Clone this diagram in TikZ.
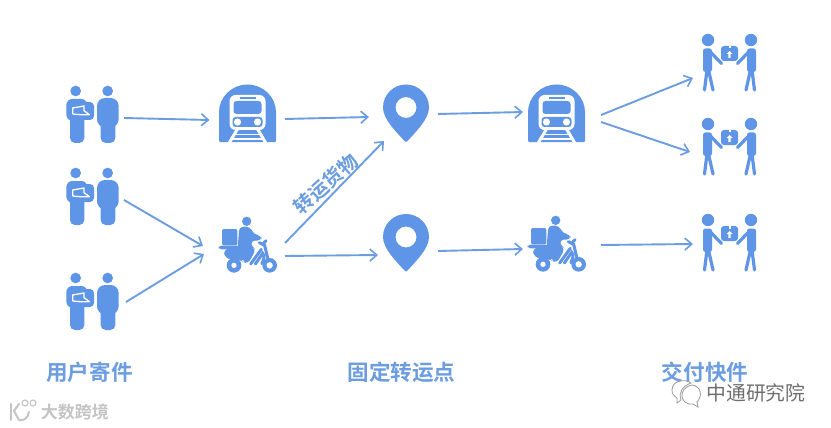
\documentclass[tikz,border=0pt]{standalone}
\usepackage{fontspec}
\usepackage{xcolor}
\usetikzlibrary{arrows.meta}
\newfontfamily\cjkf{Noto Sans CJK SC}
\newfontfamily\cjkb{Noto Sans CJK SC Bold}
\definecolor{iconblue}{HTML}{5F95E6}
\definecolor{lineblue}{HTML}{6C9DE0}
\definecolor{wmgrey}{HTML}{6E6E6E}
\definecolor{wmlight}{HTML}{C4C4C4}
\tikzset{
  x=1pt,y=-1pt,
  flow/.style={draw=lineblue,line width=1.9pt,-{Straight Barb[length=7pt,width=12pt,line width=1.6pt]}},
  anchorbox/.style={inner sep=0pt,minimum size=10pt},
  heading/.style={text=lineblue,font=\fontsize{21.6}{23}\cjkb,inner sep=0pt},
  sender/.pic={
    \begin{scope}[scale=1/3,shift={(-96,-102)}]
      \fill[iconblue] (47,33) circle[radius=16pt];
      \fill[iconblue] (143,33) circle[radius=16pt];
      \fill[iconblue,rounded corners=6pt] (19,57) rectangle (82,122);
      \fill[iconblue,rounded corners=5pt] (30,100) rectangle (73,189);
      \fill[iconblue,rounded corners=4pt] (60,66) rectangle (102,120);
      \draw[white,line width=1.3pt,line join=round] (38,102) -- (38,84) -- (72,78) -- (72,92) -- (88,104) -- (60,104) -- (38,102);
      \fill[iconblue,rounded corners=8pt] (111,54) rectangle (176,142);
      \fill[iconblue,rounded corners=5pt] (122,120) rectangle (166,189);
    \end{scope}
  },
  trainicon/.pic={
    \fill[iconblue,rounded corners=1pt] (-28.5,29) -- (-28.5,0) arc[start angle=180,end angle=0,radius=28.5pt] -- (28.5,29) -- cycle;
    \fill[white,rounded corners=6pt] (-18,-18) rectangle (18,17);
    \fill[iconblue,rounded corners=3pt] (-14,-12) rectangle (14,1);
    \fill[iconblue] (-8,-16) rectangle (8,-14);
    \fill[iconblue,rounded corners=3pt] (-15,4) rectangle (15,14);
    \fill[white] (-10,9) circle[radius=3.6pt];
    \fill[white] (10,9) circle[radius=3.6pt];
    \draw[white,line width=3pt] (-10,16) -- (-18,29.5);
    \draw[white,line width=3pt] (10,16) -- (18,29.5);
    \draw[white,line width=1.8pt] (-13,21.5) -- (13,21.5);
    \draw[white,line width=1.8pt] (-16,26) -- (16,26);
  },
  pinicon/.pic={
    \fill[iconblue,even odd rule] (-23,0) arc[start angle=180,end angle=0,radius=23pt]
       .. controls (23,12) and (9,25) .. (2,33) .. controls (1,35) and (-1,35) .. (-2,33)
       .. controls (-9,25) and (-23,12) .. (-23,0) -- cycle
       (0,0) circle[radius=10.5pt];
  },
  ridericon/.pic={
    \begin{scope}[scale=1/3,shift={(-105,-99)}]
      \fill[iconblue] (98,28) circle[radius=14pt];
      \fill[iconblue,rounded corners=2pt] (24,51) rectangle (70,100);
      \fill[iconblue,rounded corners=3pt] (14,101) rectangle (78,112);
      \fill[iconblue,rounded corners=4pt] (76,44) -- (108,44) -- (120,68) -- (142,70) -- (142,86) -- (110,86) -- (114,106) -- (126,112) -- (102,156) -- (84,148) -- (92,124) -- (70,120) -- cycle;
      \fill[iconblue,rounded corners=6pt] (28,110) -- (98,110) -- (92,152) -- (78,142) -- (34,142) -- cycle;
      \fill[iconblue] (60,160) circle[radius=22pt];
      \fill[white] (60,160) circle[radius=8pt];
      \draw[iconblue,line width=3pt,line cap=round] (110,156) -- (142,112);
      \draw[iconblue,line width=3pt,line cap=round] (124,156) -- (146,124) .. controls (156,132) and (146,146) .. (144,155);
      \draw[iconblue,line width=3pt,line cap=round] (136,92) -- (152,100) -- (162,142);
      \draw[iconblue,line width=3pt,line cap=round] (148,94) -- (156,86);
      \fill[iconblue] (167,160) circle[radius=22pt];
      \fill[white] (167,160) circle[radius=9.5pt];
    \end{scope}
  },
  handover/.pic={
    \fill[iconblue] (-21.5,-16) circle[radius=6.2pt];
    \fill[iconblue] (21.5,-16) circle[radius=6.2pt];
    \fill[iconblue,rounded corners=2.5pt] (-26.5,-7.5) rectangle (-17.5,16);
    \draw[iconblue,line width=3.2pt,line cap=round] (-20,-5) -- (-8,7.5);
    \draw[iconblue,line width=3.2pt,line cap=round] (-22.5,14) -- (-25,34);
    \draw[iconblue,line width=3.2pt,line cap=round] (-21,14) -- (-16.5,34);
    \fill[iconblue,rounded corners=2.5pt] (26.5,-7.5) rectangle (17.5,16);
    \draw[iconblue,line width=3.2pt,line cap=round] (20,-5) -- (8,7.5);
    \draw[iconblue,line width=3.2pt,line cap=round] (22.5,14) -- (25,34);
    \draw[iconblue,line width=3.2pt,line cap=round] (21,14) -- (16.5,34);
    \fill[iconblue,rounded corners=3pt] (-8.5,-10) rectangle (8.5,5);
    \fill[white] (0,-5) -- (3,-2) -- (1.2,-2) -- (1.2,2) -- (-1.2,2) -- (-1.2,-2) -- (-3,-2) -- cycle;
    \fill[white] (-1,-10) rectangle (1,-7.5);
  },
}
\begin{document}
\begin{tikzpicture}
\useasboundingbox (0,0) rectangle (831,428);
\fill[white] (0,0) rectangle (831,428);
% icon holders
\node[anchorbox] (s1) at (92,114) {};
\node[anchorbox] (s2) at (92,196) {};
\node[anchorbox] (s3) at (92,301) {};
\node[anchorbox] (t1) at (247.5,113) {};
\node[anchorbox] (t2) at (556.5,113) {};
\node[anchorbox] (p1) at (406,107.5) {};
\node[anchorbox] (p2) at (406,237) {};
\node[anchorbox] (r1) at (249,245) {};
\node[anchorbox] (r2) at (558,244) {};
\node[anchorbox] (h1) at (729.5,56) {};
\node[anchorbox] (h2) at (729.5,140) {};
\node[anchorbox] (h3) at (729.5,236) {};
\foreach \n in {s1,s2,s3} \pic at (\n) {sender};
\foreach \n in {t1,t2} \pic at (\n) {trainicon};
\foreach \n in {p1,p2} \pic at (\n) {pinicon};
\foreach \n in {r1,r2} \pic at (\n) {ridericon};
\foreach \n in {h1,h2,h3} \pic at (\n) {handover};
% connectors
\draw[flow] ([shift={(32,4)}]s1.center) -- ([shift={(-38,7)}]t1.center);
\draw[flow] ([shift={(32,4)}]s2.center) -- ([shift={(-46,1)}]r1.center);
\draw[flow] ([shift={(34,1)}]s3.center) -- ([shift={(-45,9)}]r1.center);
\draw[flow] ([shift={(37.5,6)}]t1.center) -- ([shift={(-37,9.5)}]p1.center);
\draw[flow] ([shift={(36,-2)}]r1.center) -- ([shift={(-22,33.5)}]p1.center);
\draw[flow] ([shift={(36,11)}]r1.center) -- ([shift={(-28,18)}]p2.center);
\draw[flow] ([shift={(32,6.5)}]p1.center) -- ([shift={(-33.5,-1)}]t2.center);
\draw[flow] ([shift={(32,14)}]p2.center) -- ([shift={(-35,5)}]r2.center);
\draw[flow] ([shift={(44.5,2)}]t2.center) -- ([shift={(-36.5,22)}]h1.center);
\draw[flow] ([shift={(44.5,9)}]t2.center) -- ([shift={(-39.5,12)}]h2.center);
\draw[flow] ([shift={(43,1)}]r2.center) -- ([shift={(-36.5,8)}]h3.center);
% texts
\node[text=lineblue,font=\fontsize{19.5}{20}\cjkb,inner sep=0pt,rotate=42] (tag) at (326,184) {转运货物};
\node[heading] (l1) at (89.5,372) {用户寄件};
\node[heading] (l2) at (401.5,372) {固定转运点};
\node[heading] (l3) at (705,372) {交付快件};
% watermarks
\node[text=wmlight,font=\fontsize{17}{18}\cjkb,inner sep=0pt] (wm1) at (75,412) {大数跨境};
\draw[wmlight,line width=2pt,line cap=round] (11,404) -- (11,420);
\draw[wmlight,line width=2pt,line cap=round] (19,404) -- (14,411) -- (19,420) .. controls (24,421) and (28,418) .. (29,412);
\draw[wmlight,line width=1.1pt] (25,403) circle[radius=3pt];
\draw[wmlight,line width=1.1pt] (33,403) circle[radius=3pt];
\node[text=wmgrey,font=\fontsize{19.8}{20}\cjkf,inner sep=0pt] (wm2) at (756,393) {中通研究院};
\draw[wmgrey!70,line width=0.8pt] (672,390) .. controls (672,381) and (684,378) .. (691,383) .. controls (683,386) and (678,392) .. (681,400) -- (677,403) -- (677,398) .. controls (674,396) and (672,394) .. (672,390);
\draw[wmgrey!70,line width=0.8pt] (692,385) .. controls (701,386) and (703,396) .. (697,402) -- (698,407) -- (693,404) .. controls (680,406) and (677,388) .. (692,385);
\end{tikzpicture}
\end{document}
